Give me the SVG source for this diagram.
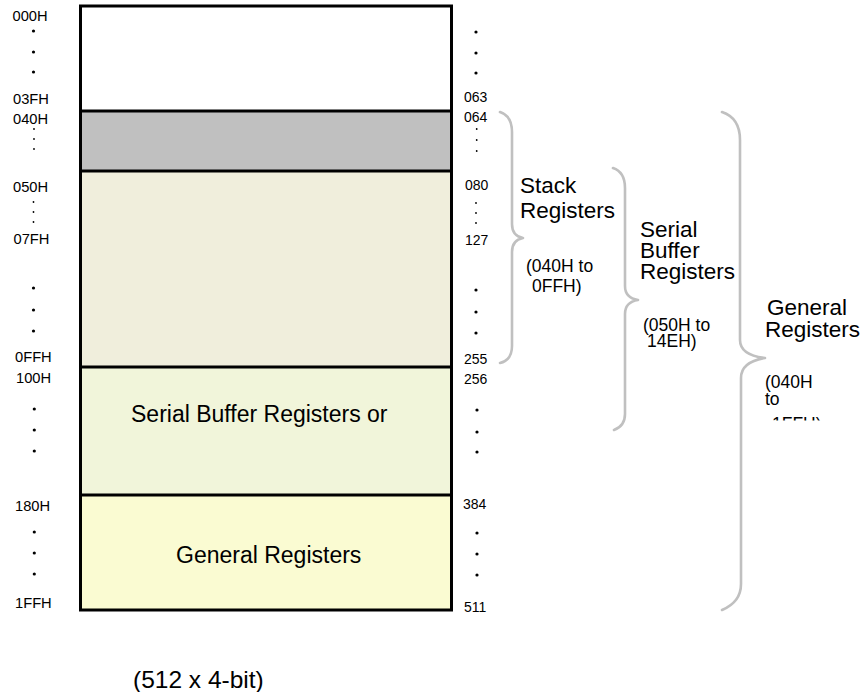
<svg xmlns="http://www.w3.org/2000/svg" width="863" height="692" viewBox="0 0 863 692">
  <style>
    text { font-family: "Liberation Sans", Arial, sans-serif; fill: #000; }
    .addr { font-size: 14.7px; }
    .idx { font-size: 14px; }
    .big { font-size: 23px; }
    .side { font-size: 22.5px; }
    .range { font-size: 17.5px; }
    .caption { font-size: 24.5px; }
    .cell { stroke: none; }
    .frame { fill: none; stroke: #000; stroke-width: 3; }
    .divider { stroke: #000; stroke-width: 3; }
    .dot { fill: #000; }
    .brace { fill: none; stroke: #C0C0C0; stroke-width: 2.6; stroke-linecap: round; stroke-linejoin: round; }
  </style>
  <defs>
    <clipPath id="rangeClip">
      <rect x="740" y="360" width="123" height="60.5"/>
    </clipPath>
  </defs>

  <rect width="863" height="692" fill="#fff"/>

  <!-- memory map segments -->
  <g id="seg-000-03F">
    <rect class="cell" x="80.5" y="6" width="371" height="105" fill="#fff"/>
  </g>
  <g id="seg-040-04F">
    <rect class="cell" x="80.5" y="111" width="371" height="60" fill="#C0C0C0"/>
  </g>
  <g id="seg-050-0FF">
    <rect class="cell" x="80.5" y="171" width="371" height="196" fill="#F0EEDC"/>
  </g>
  <g id="seg-100-17F">
    <rect class="cell" x="80.5" y="367" width="371" height="128" fill="#F1F5DA"/>
    <text class="big" x="131" y="422">Serial Buffer Registers or</text>
  </g>
  <g id="seg-180-1FF">
    <rect class="cell" x="80.5" y="495" width="371" height="115" fill="#FAFBD2"/>
    <text class="big" x="176" y="563">General Registers</text>
  </g>
  <g id="frame">
    <line class="divider" x1="80.5" y1="111" x2="451.5" y2="111"/>
    <line class="divider" x1="80.5" y1="171" x2="451.5" y2="171"/>
    <line class="divider" x1="80.5" y1="367" x2="451.5" y2="367"/>
    <line class="divider" x1="80.5" y1="495" x2="451.5" y2="495"/>
    <rect class="frame" x="80.5" y="6" width="371" height="604"/>
  </g>

  <!-- hex addresses, left side -->
  <g id="hex-addresses">
    <text class="addr" x="12.5" y="20.5">000H</text>
    <circle class="dot" cx="33.5" cy="31" r="1.6"/>
    <circle class="dot" cx="33.5" cy="52" r="1.6"/>
    <circle class="dot" cx="33.5" cy="72" r="1.6"/>
    <text class="addr" x="13" y="104">03FH</text>
    <text class="addr" x="13" y="124">040H</text>
    <circle class="dot" cx="34" cy="129" r="0.9"/>
    <circle class="dot" cx="34" cy="139" r="0.9"/>
    <circle class="dot" cx="34" cy="149" r="0.9"/>
    <text class="addr" x="13" y="192">050H</text>
    <circle class="dot" cx="33.5" cy="202" r="0.9"/>
    <circle class="dot" cx="33.5" cy="212" r="0.9"/>
    <circle class="dot" cx="33.5" cy="222" r="0.9"/>
    <text class="addr" x="13.5" y="244">07FH</text>
    <circle class="dot" cx="33.5" cy="288" r="1.6"/>
    <circle class="dot" cx="33.5" cy="310" r="1.6"/>
    <circle class="dot" cx="33.5" cy="331" r="1.6"/>
    <text class="addr" x="15" y="362">0FFH</text>
    <text class="addr" x="16" y="383">100H</text>
    <circle class="dot" cx="34.3" cy="409" r="1.6"/>
    <circle class="dot" cx="34.3" cy="430" r="1.6"/>
    <circle class="dot" cx="34.3" cy="451" r="1.6"/>
    <text class="addr" x="15" y="511">180H</text>
    <circle class="dot" cx="34.3" cy="532" r="1.6"/>
    <circle class="dot" cx="34.3" cy="553" r="1.6"/>
    <circle class="dot" cx="34.3" cy="574" r="1.6"/>
    <text class="addr" x="15" y="608">1FFH</text>
  </g>

  <!-- decimal indices, right side -->
  <g id="dec-indices">
    <circle class="dot" cx="476" cy="32" r="1.6"/>
    <circle class="dot" cx="476" cy="53" r="1.6"/>
    <circle class="dot" cx="476" cy="73" r="1.6"/>
    <text class="idx" x="464" y="102">063</text>
    <text class="idx" x="464" y="122">064</text>
    <circle class="dot" cx="476.7" cy="129" r="0.9"/>
    <circle class="dot" cx="476.7" cy="140" r="0.9"/>
    <circle class="dot" cx="476.7" cy="151" r="0.9"/>
    <text class="idx" x="465" y="190">080</text>
    <circle class="dot" cx="476" cy="203" r="0.9"/>
    <circle class="dot" cx="476" cy="213" r="0.9"/>
    <circle class="dot" cx="476" cy="223" r="0.9"/>
    <text class="idx" x="465" y="245">127</text>
    <circle class="dot" cx="476" cy="290" r="1.6"/>
    <circle class="dot" cx="476" cy="312" r="1.6"/>
    <circle class="dot" cx="476" cy="333" r="1.6"/>
    <text class="idx" x="464" y="364">255</text>
    <text class="idx" x="464" y="384">256</text>
    <circle class="dot" cx="477" cy="410" r="1.6"/>
    <circle class="dot" cx="477" cy="432" r="1.6"/>
    <circle class="dot" cx="477" cy="452" r="1.6"/>
    <text class="idx" x="463" y="509">384</text>
    <circle class="dot" cx="477" cy="533" r="1.6"/>
    <circle class="dot" cx="477" cy="554" r="1.6"/>
    <circle class="dot" cx="477" cy="575" r="1.6"/>
    <text class="idx" x="464" y="612">511</text>
  </g>

  <!-- range braces -->
  <g id="braces">
    <path class="brace" d="M500,112 Q512,116 512,132 L512,224 Q512,236 523,238 Q512,240 512,252 L512,346 Q512,360 500,363"/>
    <path class="brace" d="M613,168 Q625,172 625,188 L625,286 Q625,298 638,300 Q625,302 625,314 L625,414 Q625,426 614,430"/>
    <path class="brace" d="M722,112 Q740,118 740,140 L740,340 Q740,355 765,358 Q741,362 741,378 L741,584 Q741,602 722,610"/>
  </g>

  <g id="label-stack">
    <text class="side" x="520" y="193">Stack</text>
    <text class="side" x="520" y="218">Registers</text>
    <text class="range" x="526" y="272">(040H to</text>
    <text class="range" x="532" y="292">0FFH)</text>
  </g>
  <g id="label-serial">
    <text class="side" x="640" y="237">Serial</text>
    <text class="side" x="640" y="258">Buffer</text>
    <text class="side" x="640" y="279">Registers</text>
    <text class="range" x="643" y="331">(050H to</text>
    <text class="range" x="647" y="347">14EH)</text>
  </g>
  <g id="label-general">
    <text class="side" x="767" y="315">General</text>
    <text class="side" x="765" y="337">Registers</text>
    <g clip-path="url(#rangeClip)">
      <text class="range" x="765" y="388">(040H</text>
      <text class="range" x="765" y="405">to</text>
      <text class="range" x="772" y="430">1FFH)</text>
    </g>
  </g>

  <g id="caption">
    <text class="caption" x="133" y="688">(512 x 4-bit)</text>
  </g>
</svg>
